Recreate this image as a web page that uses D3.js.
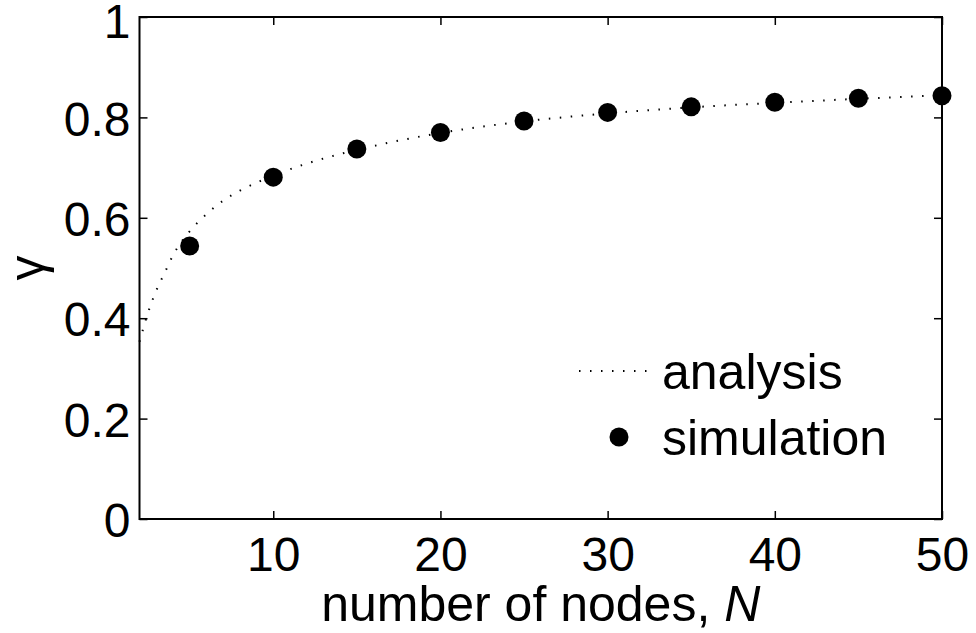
<!DOCTYPE html>
<html>
  <head>
    <meta charset="utf-8">
    <title>gamma vs N</title>
    <style>
      body { margin: 0; background: #fff; }
      text { font-family: "Liberation Sans", Arial, Helvetica, sans-serif; fill: #000; }
    </style>
    <script src="https://d3js.org/d3.v7.min.js"></script>
  </head>
  <body>
    <svg id="chart"></svg>
    <script>
      // analysis curve
      const analysisN = [2, 2.5, 3, 3.5, 4, 5, 6, 7, 8, 9, 10, 12, 14, 16, 18, 20, 25, 30, 35, 40, 45, 50];
      const analysisGamma = [0.353, 0.41, 0.455, 0.49, 0.525, 0.573, 0.607, 0.634, 0.654, 0.670, 0.684,
                             0.708, 0.727, 0.743, 0.757, 0.769, 0.792, 0.808, 0.820, 0.829, 0.837, 0.844];

      // simulation points
      const simN = [5, 10, 15, 20, 25, 30, 35, 40, 45, 50];
      const simGamma = [0.544, 0.681, 0.737, 0.770, 0.793, 0.810, 0.821, 0.830, 0.838, 0.843];

      const xTicks = [10, 20, 30, 40, 50];
      const yTicks = [0, 0.2, 0.4, 0.6, 0.8, 1];

      const width = 976, height = 633;
      const plotLeft = 139.5, plotRight = 942, plotTop = 17, plotBottom = 519;
      const tickFont = 48, labelFont = 50;

      const svg = d3.select('#chart').attr('width', width).attr('height', height);

      const x = d3.scaleLinear().domain([2, 50]).range([plotLeft, plotRight]);
      const y = d3.scaleLinear().domain([0, 1]).range([plotBottom, plotTop]);

      // ticks on all four sides, pointing inward
      const tickLen = 8;
      svg.append('g').attr('transform', `translate(0,${plotBottom})`)
        .call(d3.axisBottom(x).tickValues(xTicks).tickSize(-tickLen).tickPadding(18).tickFormat(d3.format('d')))
        .call(g => g.select('.domain').remove())
        .call(g => g.selectAll('text').attr('font-size', tickFont).attr('dy', '0.71em'));
      svg.append('g').attr('transform', `translate(0,${plotTop})`)
        .call(d3.axisTop(x).tickValues(xTicks).tickSize(-tickLen).tickFormat(''))
        .call(g => g.select('.domain').remove());
      svg.append('g').attr('transform', `translate(${plotLeft},0)`)
        .call(d3.axisLeft(y).tickValues(yTicks).tickSize(-tickLen).tickPadding(9).tickFormat(d => String(+d.toFixed(1))))
        .call(g => g.select('.domain').remove())
        .call(g => g.selectAll('text').attr('font-size', tickFont)
          .attr('dy', d => d === 1 ? '0.42em' : '0.37em')); // top label nudged so it stays inside
      svg.append('g').attr('transform', `translate(${plotRight},0)`)
        .call(d3.axisRight(y).tickValues(yTicks).tickSize(-tickLen).tickFormat(''))
        .call(g => g.select('.domain').remove());

      svg.selectAll('.tick line').attr('stroke', '#000').attr('stroke-width', 1.5);
      svg.selectAll('.tick text').attr('font-family', '"Liberation Sans", Arial, sans-serif').attr('fill', '#000');

      // frame
      svg.append('rect')
        .attr('x', plotLeft).attr('y', plotTop)
        .attr('width', plotRight - plotLeft).attr('height', plotBottom - plotTop)
        .attr('fill', 'none').attr('stroke', '#000').attr('stroke-width', 2);

      // analysis curve (dotted)
      const line = d3.line()
        .x((d, i) => x(analysisN[i]))
        .y(d => y(d))
        .curve(d3.curveMonotoneX);
      svg.append('path')
        .datum(analysisGamma)
        .attr('d', line)
        .attr('fill', 'none')
        .attr('stroke', '#000')
        .attr('stroke-width', 2)
        .attr('stroke-dasharray', '1.5,9.5');

      // simulation dots
      svg.append('g').selectAll('circle')
        .data(simGamma)
        .join('circle')
        .attr('cx', (d, i) => x(simN[i]))
        .attr('cy', d => y(d))
        .attr('r', 9.5)
        .attr('fill', '#000');

      // legend
      const legend = svg.append('g');
      legend.append('line')
        .attr('x1', 579).attr('x2', 655)
        .attr('y1', 371).attr('y2', 371)
        .attr('stroke', '#000').attr('stroke-width', 2)
        .attr('stroke-dasharray', '1.5,9.5');
      legend.append('text').attr('x', 662).attr('y', 389).attr('font-size', labelFont).text('analysis');
      legend.append('circle').attr('cx', 619).attr('cy', 437).attr('r', 9.5).attr('fill', '#000');
      legend.append('text').attr('x', 662).attr('y', 455).attr('font-size', labelFont).text('simulation');

      // axis labels
      const xl = svg.append('text')
        .attr('x', (plotLeft + plotRight) / 2)
        .attr('y', 621)
        .attr('text-anchor', 'middle')
        .attr('font-size', labelFont);
      xl.append('tspan').text('number of nodes, ');
      xl.append('tspan').attr('font-style', 'italic').text('N');

      svg.append('text')
        .attr('transform', `translate(44,${(plotTop + plotBottom) / 2}) rotate(-90)`)
        .attr('text-anchor', 'middle')
        .attr('font-size', labelFont)
        .attr('font-family', '"DejaVu Serif", serif')
        .text('γ');
    </script>
  </body>
</html>
